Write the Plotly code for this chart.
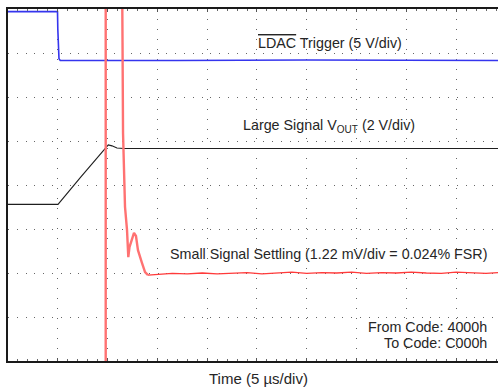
import plotly.graph_objects as go

# Scope capture: x in microseconds (5 us/div), y in screen divisions (8 div tall)
X_MAX = 49.2

# LDAC trigger channel (5 V/div)
ldac_t = [0.0, 4.97, 5.0, 5.05, 5.12, 5.25, 13.0, 17.0, 30.0, 38.0, 49.2]
ldac_v = [7.94, 7.94, 7.55, 7.1, 6.87, 6.83, 6.84, 6.83, 6.84, 6.83, 6.83]

# Large-signal output (2 V/div)
vout_t = [0.0, 5.02, 7.3, 9.64, 10.07, 10.44, 10.94, 11.65, 20.0, 30.0, 40.0, 49.2]
vout_v = [3.56, 3.56, 4.18, 4.80, 4.91, 4.89, 4.84, 4.83, 4.83, 4.82, 4.83, 4.83]

# Small-signal settling (1.22 mV/div); the step edge runs off-screen above and below
sett_t = [9.81, 9.81, 11.45, 11.45, 11.50, 11.55, 11.65, 11.75, 11.95, 12.08,
          12.20, 12.65, 12.85, 13.05, 13.45, 13.76, 14.06,
          15.0, 16.5, 18.0, 19.5, 21.0, 22.5, 24.0, 25.5, 27.0, 28.5, 30.0,
          31.5, 33.0, 34.5, 36.0, 37.5, 39.0, 40.5, 42.0, 43.5, 45.0, 46.5, 48.0, 49.2]
sett_v = [-1.0, 9.0, 9.0, 7.98, 7.23, 5.18, 4.11, 3.50, 2.98, 2.36,
          2.59, 2.91, 2.84, 2.52, 2.23, 2.02, 1.95,
          1.97, 1.99, 1.98, 2.00, 1.98, 1.99, 2.01, 1.98, 2.00, 2.02, 1.99,
          2.01, 2.00, 2.02, 1.99, 2.01, 2.00, 2.02, 2.00, 1.99, 2.02, 2.00, 1.99, 2.01]
EDGE_END = 17  # samples up to the end of the ringing

TEXT = "#262626"
FONT = "Liberation Sans, Arial, sans-serif"

fig = go.Figure()

fig.add_trace(go.Scatter(x=ldac_t, y=ldac_v, mode="lines",
                         line=dict(color="#3535ee", width=1.6), hoverinfo="skip"))
fig.add_trace(go.Scatter(x=vout_t, y=vout_v, mode="lines",
                         line=dict(color="#1e1e1e", width=1.1), hoverinfo="skip"))
fig.add_trace(go.Scatter(x=sett_t[:EDGE_END], y=sett_v[:EDGE_END], mode="lines",
                         line=dict(color="#ff7272", width=2.4), hoverinfo="skip"))
fig.add_trace(go.Scatter(x=sett_t[EDGE_END - 1:], y=sett_v[EDGE_END - 1:], mode="lines",
                         line=dict(color="#ff3a3a", width=1.3), hoverinfo="skip"))

labels = [
    dict(x=24.9, y=7.22, xanchor="left",
         text='<span style="text-decoration:overline">LDAC</span> Trigger (5 V/div)'),
    dict(x=23.4, y=5.34, xanchor="left",
         text="Large Signal V<sub>OUT</sub> (2 V/div)"),
    dict(x=16.1, y=2.43, xanchor="left",
         text="Small Signal Settling (1.22 mV/div = 0.024% FSR)"),
    dict(x=48.3, y=0.78, xanchor="right", text="From Code: 4000h"),
    dict(x=48.3, y=0.42, xanchor="right", text="To Code: C000h"),
]
for a in labels:
    fig.add_annotation(xref="x", yref="y", yanchor="middle", showarrow=False,
                       font=dict(family=FONT, size=14.3, color=TEXT), **a)

fig.add_annotation(xref="x", yref="paper", x=25.2, y=-0.05, yanchor="middle",
                   xanchor="center", showarrow=False, text="Time (5 µs/div)",
                   font=dict(family=FONT, size=15, color=TEXT))

fig.update_layout(
    width=498, height=387,
    margin=dict(l=8, r=0, t=9, b=26),
    paper_bgcolor="white", plot_bgcolor="white",
    showlegend=False,
    xaxis=dict(range=[0, X_MAX], dtick=5, tick0=0, showticklabels=False,
               showgrid=True, gridcolor="#666", gridwidth=1.2, griddash="1px,8.96px",
               zeroline=False, showline=True, linecolor="#1a1a1a", linewidth=2,
               mirror="allticks", ticks="inside", ticklen=3, tickcolor="#555",
               minor=dict(dtick=1, ticks="inside", ticklen=2, tickcolor="#666", showgrid=False),
               fixedrange=True),
    yaxis=dict(range=[0, 8], dtick=1, tick0=0, showticklabels=False,
               showgrid=True, gridcolor="#666", gridwidth=1.2, griddash="1px,7.8px",
               zeroline=False, showline=True, linecolor="#1a1a1a", linewidth=2,
               ticks="", fixedrange=True),
)

fig.write_html("out.html")
